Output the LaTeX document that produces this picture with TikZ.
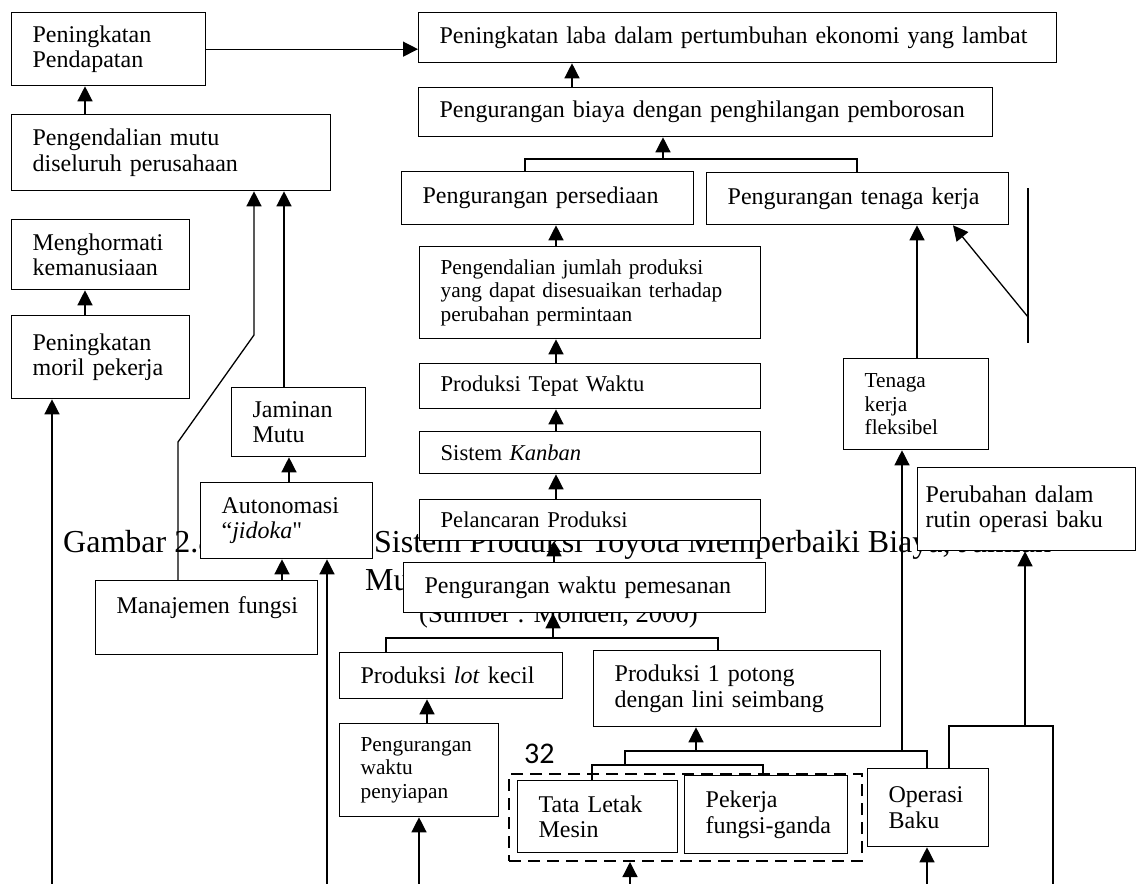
\documentclass[tikz,border=0pt]{standalone}
\usepackage{fontspec}
\setmainfont{Liberation Serif}
\newfontfamily\pagefont{Carlito}
\usetikzlibrary{arrows.meta,positioning}
\newcommand{\sq}{{\addfontfeatures{Ligatures=TeXOff}"}}
\tikzset{
  flow/.style={line width=1.3pt},
  arr/.style={flow, -{Triangle[length=15pt,width=15pt]}},
  box/.style={draw, line width=1.3pt, fill=white, anchor=north west, align=left,
    inner xsep=21pt, inner ysep=0pt, font=\fontsize{24}{25.5}\selectfont},
  midbox/.style={box, font=\fontsize{22.6}{25}\selectfont},
  smallbox/.style={box, font=\fontsize{21.3}{23.5}\selectfont},
  groupbox/.style={draw, line width=2pt, dash pattern=on 12pt off 7pt, anchor=north west, inner sep=0pt},
  caption/.style={anchor=base west, inner sep=0pt, font=\fontsize{32}{38}\selectfont},
  source/.style={anchor=base west, inner sep=0pt, font=\fontsize{26.6}{30}\selectfont}
}
\begin{document}
\begin{tikzpicture}[x=1pt, y=-1pt]
  \useasboundingbox (0,0) rectangle (1136,884);
  % caption behind the boxes
  \node[caption] (judul) at (63,552) {Gambar 2.8};
  \node[caption] (judulb) at (374,552) {Sistem Produksi Toyota Memperbaiki Biaya, Jumlah};
  \node[caption] (judulc) at (365,590) {Mutu};
  \node[source] (sumber) at (419,622) {(Sumber : Monden, 2000)};
  \node[anchor=base west, inner sep=0pt, font=\pagefont\fontsize{30}{30}\selectfont] (hal) at (524,763) {32};

  % left column
  \node[box, minimum width=194pt, text width=152pt, minimum height=73pt] (pendapatan) at (11,12) {Peningkatan\\Pendapatan};
  \node[box, minimum width=319pt, text width=277pt, minimum height=76pt] (mutu) at (11,114) {Pengendalian mutu\\diseluruh perusahaan};
  \node[box, minimum width=178pt, text width=136pt, minimum height=70pt] (hormat) at (11,219) {Menghormati\\kemanusiaan};
  \node[box, minimum width=178pt, text width=136pt, minimum height=83pt] (moril) at (11,315) {Peningkatan\\moril pekerja};
  \node[box, minimum width=134pt, text width=92pt, minimum height=69pt] (jaminan) at (231,387) {Jaminan\\Mutu};
  \node[box, minimum width=172pt, text width=130pt, minimum height=76pt] (jidoka) at (200,482) {Autonomasi\\``\textit{jidoka}\sq};
  \node[box, minimum width=222pt, text width=180pt, minimum height=74pt] (fungsi) at (95,580) {\mbox{Manajemen fungsi}\\\mbox{}};

  % middle column
  \node[box, minimum width=638pt, text width=596pt, minimum height=50pt] (laba) at (418,12) {Peningkatan laba dalam pertumbuhan ekonomi yang lambat};
  \node[box, minimum width=574pt, text width=532pt, minimum height=49pt] (biaya) at (418,87) {Pengurangan biaya dengan penghilangan pemborosan};
  \node[box, minimum width=292pt, text width=250pt, minimum height=53pt] (sedia) at (401,171) {Pengurangan persediaan};
  \node[box, minimum width=302pt, text width=260pt, minimum height=52pt] (tenaga) at (706,172) {Pengurangan tenaga kerja};
  \node[smallbox, minimum width=341pt, text width=299pt, minimum height=92pt] (jumlah) at (419,246) {Pengendalian jumlah produksi\\yang dapat disesuaikan terhadap\\perubahan permintaan};
  \node[midbox, minimum width=341pt, text width=299pt, minimum height=45pt] (tepat) at (419,363) {Produksi Tepat Waktu};
  \node[midbox, minimum width=341pt, text width=299pt, minimum height=42pt] (kanban) at (419,431) {Sistem \textit{Kanban}};
  \node[midbox, minimum width=341pt, text width=299pt, minimum height=41pt] (lancar) at (419,499) {Pelancaran Produksi};
  \node[box, minimum width=362pt, text width=320pt, minimum height=50pt] (pesan) at (403,562) {Pengurangan waktu pemesanan};
  \node[box, minimum width=223pt, text width=181pt, minimum height=46pt] (lotkecil) at (339,652) {Produksi \textit{lot} kecil};
  \node[smallbox, minimum width=159pt, text width=117pt, minimum height=93pt] (siap) at (339,723) {Pengurangan\\waktu\\penyiapan};
  \node[box, minimum width=287pt, text width=245pt, minimum height=76pt] (satupotong) at (593,650) {Produksi 1 potong\\dengan lini seimbang};
  \node[groupbox, minimum width=353pt, minimum height=87pt] (grup) at (508,773) {};
  \node[box, minimum width=160pt, text width=118pt, minimum height=72pt] (tata) at (517,780) {Tata Letak\\Mesin};
  \node[box, minimum width=163pt, text width=121pt, minimum height=78pt] (ganda) at (684,775) {Pekerja\\\mbox{fungsi-ganda}};

  % right column
  \node[smallbox, minimum width=145pt, text width=103pt, minimum height=91pt] (fleksibel) at (843,358) {Tenaga\\kerja\\fleksibel};
  \node[box, inner xsep=8pt, minimum width=218pt, text width=202pt, minimum height=83pt] (rutin) at (917,467) {Perubahan dalam\\rutin operasi baku};
  \node[box, minimum width=121pt, text width=79pt, minimum height=78pt] (operasi) at (867,768) {Operasi\\Baku};

  % junctions and free ends
  \coordinate (j1) at (663,159);
  \coordinate (j2) at (553,638);
  \coordinate (j3) at (696,751);
  \coordinate (j4) at (902,751);
  \coordinate (j5) at (1025,726);
  \coordinate (sisi) at (1028,317);
  \coordinate (b1) at (52,884);
  \coordinate (b2) at (327,884);
  \coordinate (b3) at (419,884);
  \coordinate (b4) at (630,884);
  \coordinate (b5) at (927,884);
  \coordinate (b6) at (1053,884);

  % connectors
  \draw[arr] (pendapatan.east) -- (pendapatan.east -| laba.west);
  \draw[arr] (572,0 |- biaya.north) -- (572,0 |- laba.south);
  \draw[flow] (525,0 |- sedia.north) |- (857,159) -- (857,0 |- tenaga.north);
  \draw[arr] (j1) -- (j1 |- biaya.south);
  \draw[arr] (85,0 |- mutu.north) -- (85,0 |- pendapatan.south);
  \draw[arr] (85,0 |- moril.north) -- (85,0 |- hormat.south);
  \draw[arr] (b1) -- (b1 |- moril.south);
  \draw[arr] (178,0 |- fungsi.north) -- (178,442) -- (254,335) -- (254,0 |- mutu.south);
  \draw[arr] (284,0 |- jaminan.north) -- (284,0 |- mutu.south);
  \draw[arr] (289,0 |- jidoka.north) -- (289,0 |- jaminan.south);
  \draw[arr] (282,0 |- fungsi.north) -- (282,0 |- jidoka.south);
  \draw[arr] (b2) -- (b2 |- jidoka.south);
  \draw[arr] (556,0 |- jumlah.north) -- (556,0 |- sedia.south);
  \draw[arr] (556,0 |- tepat.north) -- (556,0 |- jumlah.south);
  \draw[arr] (556,0 |- kanban.north) -- (556,0 |- tepat.south);
  \draw[arr] (556,0 |- lancar.north) -- (556,0 |- kanban.south);
  \draw[arr] (554,0 |- pesan.north) -- (554,0 |- lancar.south);
  \draw[flow] (386,0 |- lotkecil.north) |- (718,638) -- (718,0 |- satupotong.north);
  \draw[arr] (j2) -- (j2 |- pesan.south);
  \draw[arr] (427,0 |- siap.north) -- (427,0 |- lotkecil.south);
  \draw[arr] (b3) -- (b3 |- siap.south);
  \draw[flow] (592,0 |- tata.north) |- (763,765) -- (763,0 |- ganda.north);
  \draw[flow] (625,765) |- (927,751) -- (927,0 |- operasi.north);
  \draw[arr] (j3) -- (j3 |- satupotong.south);
  \draw[arr] (j4) -- (j4 |- fleksibel.south);
  \draw[arr] (b4) -- (b4 |- grup.south);
  \draw[arr] (917,0 |- fleksibel.north) -- (917,0 |- tenaga.south);
  \draw[flow] (1028,188) -- (1028,343);
  \draw[arr] (sisi) -- (953,0 |- tenaga.south);
  \draw[arr] (b5) -- (b5 |- operasi.south);
  \draw[flow] (949,0 |- operasi.north) |- (1053,726) -- (b6);
  \draw[arr] (j5) -- (j5 |- rutin.south);
\end{tikzpicture}
\end{document}
